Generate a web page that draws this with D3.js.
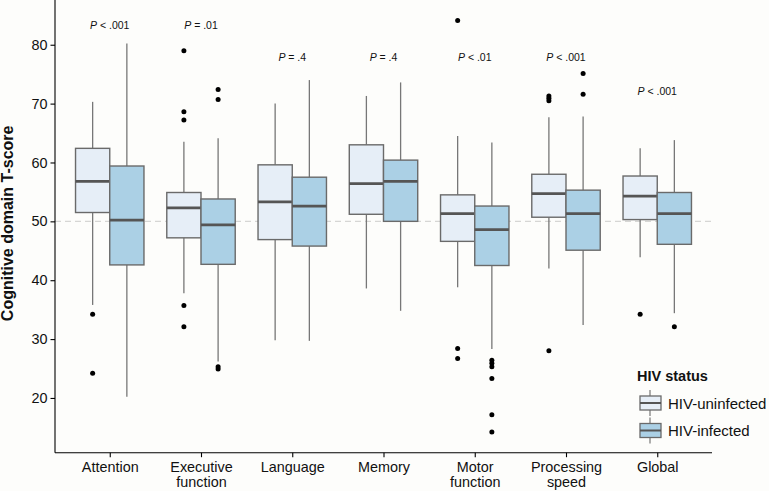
<!DOCTYPE html>
<html>
<head>
<meta charset="utf-8">
<script src="https://cdn.jsdelivr.net/npm/d3@7"></script>
<style>
  html, body { margin: 0; padding: 0; background: #fdfdfb; }
  svg { display: block; font-family: "Liberation Sans", Arial, Helvetica, sans-serif; }
</style>
</head>
<body>
<svg id="chart" width="769" height="491"></svg>
<script>
// ---- data ----
const categories = ["Attention", "Executive\nfunction", "Language", "Memory", "Motor\nfunction", "Processing\nspeed", "Global"];
const groups = ["HIV-uninfected", "HIV-infected"];
// [lower whisker, Q1, median, Q3, upper whisker]
const uninfectedStats = [
  [35.8, 51.5, 56.8, 62.4, 70.3],
  [37.8, 47.2, 52.3, 54.9, 63.5],
  [29.8, 46.9, 53.3, 59.6, 70.0],
  [38.6, 51.2, 56.4, 63.0, 71.3],
  [38.8, 46.6, 51.3, 54.5, 64.5],
  [42.0, 50.7, 54.7, 58.0, 67.7],
  [43.9, 50.3, 54.3, 57.7, 62.4]
];
const infectedStats = [
  [20.2, 42.6, 50.2, 59.4, 80.2],
  [26.2, 42.7, 49.4, 53.8, 64.1],
  [29.7, 45.8, 52.6, 57.5, 74.0],
  [34.8, 50.0, 56.8, 60.4, 73.6],
  [28.3, 42.5, 48.6, 52.6, 63.4],
  [32.4, 45.1, 51.3, 55.3, 67.8],
  [34.4, 46.1, 51.3, 54.9, 63.8]
];
const uninfectedOutliers = [
  [34.2, 24.2],
  [79.0, 68.6, 67.2, 35.7, 32.1],
  [],
  [],
  [84.1, 28.4, 26.7],
  [71.3, 70.9, 70.5, 28.0],
  [34.2]
];
const infectedOutliers = [
  [],
  [72.4, 70.7, 25.3, 24.9],
  [],
  [],
  [26.4, 25.9, 25.3, 23.3, 17.15, 14.2],
  [75.1, 71.6],
  [32.1]
];
const pLabels = ["< .001", "= .01", "= .4", "= .4", "< .01", "< .001", "< .001"];
const pLabelY = [83.3, 83.3, 77.9, 77.9, 77.9, 77.9, 72.1];
const yTicks = [20, 30, 40, 50, 60, 70, 80];
const referenceLine = 50;
const yTitle = "Cognitive domain T-score";
const legendTitle = "HIV status";

// ---- layout ----
const svg = d3.select("#chart");
const mLeft = 55, mRight = 712, mTop = 0, mBottom = 452.7;
const fills = ["#e6eef7", "#abd0e5"];
const statsByGroup = [uninfectedStats, infectedStats];
const outliersByGroup = [uninfectedOutliers, infectedOutliers];

const x = d3.scalePoint().domain(categories).range([mLeft, mRight]).padding(0.6);
const y = d3.scaleLinear().domain([10.7, 87.6]).range([mBottom, mTop]);
const dodge = d3.scaleBand().domain(groups).range([-x.step() * 0.375, x.step() * 0.375]);
const bw = dodge.bandwidth();

// reference dashed line
svg.append("line")
  .attr("x1", mLeft).attr("x2", mRight)
  .attr("y1", y(referenceLine)).attr("y2", y(referenceLine))
  .attr("stroke", "#d6d6d4").attr("stroke-width", 1.2)
  .attr("stroke-dasharray", "6,4");

// boxes
groups.forEach((g, gi) => {
  const stats = statsByGroup[gi];
  categories.forEach((c, ci) => {
    const s = stats[ci];
    const cx = x(c) + dodge(g) + bw / 2;
    const gEl = svg.append("g");
    gEl.append("line").attr("x1", cx).attr("x2", cx)
      .attr("y1", y(s[4])).attr("y2", y(s[3]))
      .attr("stroke", "#777").attr("stroke-width", 1.3);
    gEl.append("line").attr("x1", cx).attr("x2", cx)
      .attr("y1", y(s[1])).attr("y2", y(s[0]))
      .attr("stroke", "#777").attr("stroke-width", 1.3);
    gEl.append("rect")
      .attr("x", x(c) + dodge(g)).attr("width", bw)
      .attr("y", y(s[3])).attr("height", y(s[1]) - y(s[3]))
      .attr("fill", fills[gi]).attr("stroke", "#6a6a6a").attr("stroke-width", 1.4);
    gEl.append("line")
      .attr("x1", x(c) + dodge(g)).attr("x2", x(c) + dodge(g) + bw)
      .attr("y1", y(s[2])).attr("y2", y(s[2]))
      .attr("stroke", "#555").attr("stroke-width", 2.8);
    outliersByGroup[gi][ci].forEach(v => {
      gEl.append("circle").attr("cx", cx).attr("cy", y(v)).attr("r", 2.5).attr("fill", "#000");
    });
  });
});

// p-value labels
categories.forEach((c, ci) => {
  const t = svg.append("text")
    .attr("x", x(c)).attr("y", y(pLabelY[ci]))
    .attr("text-anchor", "middle").attr("dominant-baseline", "central")
    .attr("font-size", 10.5).attr("fill", "#111");
  t.append("tspan").attr("font-style", "italic").text("P");
  t.append("tspan").text(" " + pLabels[ci]);
});

// axes
const yAxis = svg.append("g").attr("transform", `translate(${mLeft},0)`)
  .call(d3.axisLeft(y).tickValues(yTicks).tickSize(4.5).tickPadding(3));
yAxis.select(".domain").attr("d", `M0,${mTop}V${mBottom}`).attr("stroke", "#000").attr("stroke-width", 1.1);
yAxis.selectAll(".tick line").attr("stroke", "#000").attr("stroke-width", 1.1);
yAxis.selectAll(".tick text").attr("font-size", 14.4).attr("fill", "#111")
  .attr("font-family", "'Liberation Sans', Arial, sans-serif");

const xAxis = svg.append("g").attr("transform", `translate(0,${mBottom})`)
  .call(d3.axisBottom(x).tickSize(4.5).tickSizeOuter(0).tickFormat(() => ""));
xAxis.select(".domain").attr("d", `M${mLeft},0H${mRight}`).attr("stroke", "#000").attr("stroke-width", 1.1);
xAxis.selectAll(".tick line").attr("stroke", "#000").attr("stroke-width", 1.1);
xAxis.selectAll(".tick").each(function (d) {
  const lines = d.split("\n");
  const t = d3.select(this).append("text")
    .attr("text-anchor", "middle").attr("font-size", 14.4).attr("fill", "#111")
    .attr("font-family", "'Liberation Sans', Arial, sans-serif");
  lines.forEach((ln, i) => {
    t.append("tspan").attr("x", 0).attr("y", 19 + i * 15).text(ln);
  });
});

// y title
svg.append("text")
  .attr("transform", `translate(13,${(mTop + mBottom) / 2 - 3}) rotate(-90)`)
  .attr("text-anchor", "middle").attr("font-size", 16).attr("font-weight", "bold")
  .attr("fill", "#111").text(yTitle);

// legend
const lg = svg.append("g");
lg.append("text").attr("x", 637).attr("y", 381).attr("font-size", 14.5).attr("font-weight", "bold")
  .attr("fill", "#111").text(legendTitle);
groups.forEach((g, gi) => {
  const cy = 403 + gi * 27.5;
  lg.append("line").attr("x1", 650).attr("x2", 650).attr("y1", cy - 13).attr("y2", cy + 13)
    .attr("stroke", "#777").attr("stroke-width", 1.2);
  lg.append("rect").attr("x", 640).attr("y", cy - 7).attr("width", 21).attr("height", 14)
    .attr("fill", fills[gi]).attr("stroke", "#6a6a6a").attr("stroke-width", 1.3);
  lg.append("line").attr("x1", 640).attr("x2", 661).attr("y1", cy).attr("y2", cy)
    .attr("stroke", "#555").attr("stroke-width", 2);
  lg.append("text").attr("x", 668).attr("y", cy).attr("dominant-baseline", "central")
    .attr("font-size", 15).attr("fill", "#111").text(g);
});
</script>
</body>
</html>
